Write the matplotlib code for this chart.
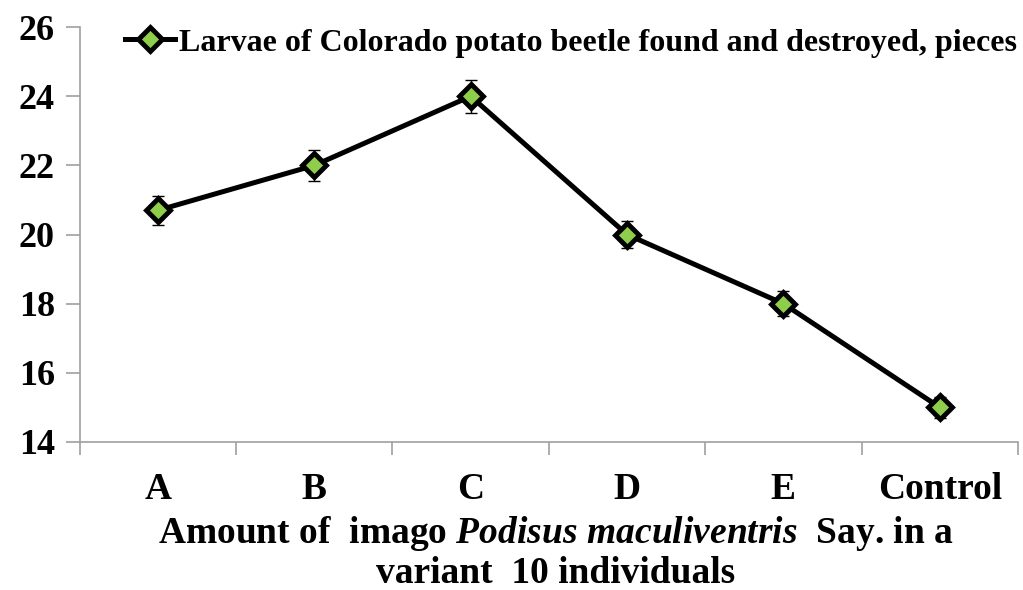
import matplotlib
matplotlib.use("Agg")
import matplotlib.pyplot as plt
import numpy as np

categories = ["A", "B", "C", "D", "E", "Control"]
larvae = [20.7, 22.0, 24.0, 20.0, 18.0, 15.0]
err_pct = 0.02  # error bars: 2 % of value
y_ticks = [14, 16, 18, 20, 22, 24, 26]
series_label = "Larvae of Colorado potato beetle found and destroyed, pieces"

plt.rcParams["font.family"] = ["Liberation Serif", "DejaVu Serif"]
plt.rcParams["font.weight"] = "bold"
plt.rcParams["mathtext.fontset"] = "custom"
plt.rcParams["mathtext.rm"] = "Liberation Serif:bold"
plt.rcParams["mathtext.it"] = "Liberation Serif:italic:bold"
plt.rcParams["mathtext.bf"] = "Liberation Serif:bold"

fig = plt.figure(figsize=(10.23, 5.90), dpi=100)
ax = fig.add_axes([0.078, 0.251, 0.917, 0.703])

x = np.arange(len(categories))
vals = np.array(larvae)
ax.errorbar(x, vals, yerr=vals * err_pct, fmt="none", ecolor="black",
            elinewidth=1, capsize=4.5, capthick=1, zorder=2)
ax.plot(x, vals, color="black", lw=3.6, marker="D", ms=12.5, mfc="#8fce4a",
        mec="black", mew=3.5, label=series_label, zorder=3)

ax.set_xlim(-0.5, len(categories) - 0.5)
ax.set_ylim(14, 26)
ax.set_yticks(y_ticks)
ax.set_xticks(x)
ax.set_xticklabels(categories)
ax.set_xticks(np.arange(len(categories) + 1) - 0.5, minor=True)
ax.tick_params(axis="x", which="major", length=0, pad=22, labelsize=27)
ax.tick_params(axis="x", which="minor", length=9, color="#a0a0a0", width=1.2)
ax.tick_params(axis="y", length=10, color="#a0a0a0", width=1.2, labelsize=26, pad=8)
for s in ["top", "right"]:
    ax.spines[s].set_visible(False)
for s in ["left", "bottom"]:
    ax.spines[s].set_color("#a0a0a0")
    ax.spines[s].set_linewidth(1.2)

fig.legend(loc="center left", bbox_to_anchor=(125 / 1023, 1 - 43 / 590),
           bbox_transform=fig.transFigure, frameon=False,
           prop={"size": 23, "weight": "bold"}, handlelength=1.55,
           handletextpad=0.15, borderpad=0, borderaxespad=0)

fig.text(0.543, 1 - 543 / 590,
         r"Amount of  imago $\mathit{Podisus\ maculiventris}$  Say. in a",
         ha="center", va="baseline", fontsize=27)
fig.text(0.543, 1 - 583 / 590, "variant  10 individuals",
         ha="center", va="baseline", fontsize=27)

fig.savefig("out.png", dpi=100)
